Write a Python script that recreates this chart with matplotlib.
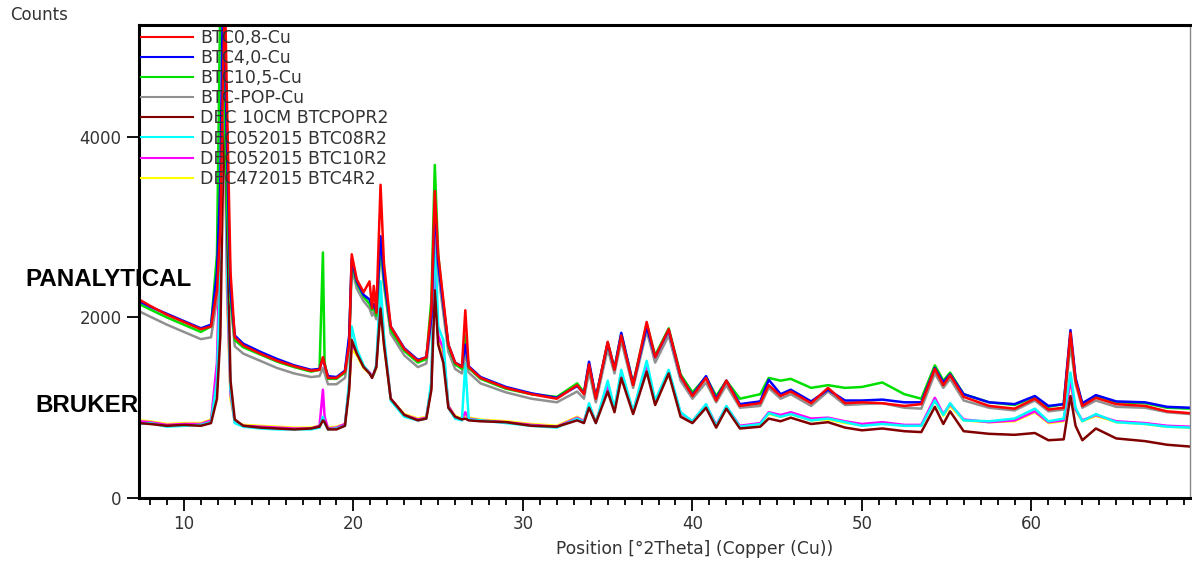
import numpy as np
import matplotlib
matplotlib.use("Agg")
import matplotlib.pyplot as plt
from matplotlib.ticker import MultipleLocator

# 2Theta positions (shared grid for all scans)
pos = [7.35, 8.0, 9.0, 10.0, 11.0, 11.6, 11.95, 12.15, 12.3, 12.42, 12.55, 12.75,
       13.0, 13.5, 14.5, 15.5, 16.5, 17.5, 18.0, 18.2, 18.3, 18.5, 19.0, 19.5,
       19.75, 19.9, 20.2, 20.6, 20.95, 21.1, 21.2, 21.35, 21.6, 21.8, 22.2, 23.0,
       23.8, 24.3, 24.6, 24.8, 25.0, 25.3, 25.6, 26.0, 26.4, 26.6, 26.8, 27.5,
       29.0, 30.5, 32.0, 33.2, 33.6, 33.9, 34.3, 35.0, 35.4, 35.8, 36.5, 37.3,
       37.8, 38.6, 39.3, 40.0, 40.8, 41.4, 42.0, 42.8, 44.0, 44.5, 45.2, 45.8,
       47.0, 48.0, 49.0, 50.0, 51.2, 52.5, 53.5, 54.3, 54.8, 55.2, 56.0, 57.5,
       59.0, 60.2, 61.0, 61.9, 62.3, 62.6, 63.0, 63.8, 65.0, 66.7, 68.0, 69.35]

# PANALYTICAL scans
btc08_cu = [2200, 2130, 2030, 1950, 1870, 1900, 2300, 3000, 4600, 5600, 4300, 2500,
            1780, 1690, 1600, 1520, 1460, 1410, 1420, 1560, 1480, 1330, 1330, 1400,
            1700, 2700, 2420, 2280, 2400, 2100, 2350, 2050, 3470, 2600, 1900, 1650,
            1520, 1560, 2100, 3400, 2700, 2200, 1700, 1500, 1450, 2080, 1450, 1330,
            1220, 1150, 1100, 1250, 1150, 1480, 1100, 1730, 1420, 1800, 1250, 1950,
            1560, 1870, 1350, 1130, 1330, 1080, 1300, 1020, 1050, 1250, 1130, 1180,
            1050, 1220, 1050, 1060, 1050, 1020, 1040, 1430, 1250, 1360, 1120, 1020,
            990, 1100, 980, 1000, 1830, 1300, 1020, 1110, 1040, 1020, 960, 940]
btc40_cu = [2180, 2120, 2040, 1960, 1880, 1920, 2500, 3500, 5600, 5000, 3800, 2300,
            1800, 1710, 1620, 1540, 1470, 1420, 1430, 1550, 1470, 1350, 1340, 1410,
            1800, 2650, 2400, 2250, 2200, 2120, 2150, 2060, 2900, 2450, 1900, 1660,
            1530, 1560, 2000, 3250, 2600, 2150, 1700, 1500, 1460, 1700, 1460, 1340,
            1230, 1160, 1110, 1240, 1160, 1510, 1110, 1720, 1430, 1830, 1260, 1900,
            1560, 1860, 1350, 1140, 1350, 1100, 1300, 1040, 1070, 1310, 1150, 1200,
            1070, 1200, 1080, 1080, 1090, 1060, 1060, 1440, 1280, 1370, 1150, 1060,
            1040, 1130, 1020, 1040, 1860, 1330, 1050, 1140, 1070, 1060, 1010, 1000]
btc105_cu = [2150, 2090, 2000, 1920, 1840, 1900, 2700, 5600, 5600, 4200, 3200, 2200,
             1750, 1670, 1590, 1510, 1450, 1400, 1420, 2720, 1500, 1320, 1320, 1390,
             1750, 2600, 2380, 2230, 2150, 2080, 2120, 2020, 2850, 2400, 1860, 1630,
             1500, 1540, 2200, 3690, 2700, 2150, 1680, 1480, 1430, 1800, 1440, 1320,
             1210, 1150, 1120, 1270, 1170, 1480, 1110, 1720, 1440, 1820, 1270, 1930,
             1580, 1880, 1370, 1170, 1340, 1130, 1300, 1100, 1150, 1330, 1300, 1320,
             1220, 1250, 1220, 1230, 1280, 1150, 1100, 1470, 1300, 1390, 1150, 1060,
             1030, 1120, 1010, 1040, 1800, 1310, 1040, 1120, 1060, 1050, 1000, 990]
btcpop_cu = [2070, 2010, 1920, 1840, 1760, 1780, 2200, 3000, 4500, 4800, 3600, 2200,
             1680, 1600, 1520, 1440, 1380, 1340, 1350, 1440, 1380, 1260, 1260, 1330,
             1650, 2550, 2320, 2180, 2100, 2020, 2060, 1980, 2750, 2350, 1820, 1580,
             1450, 1490, 1950, 3100, 2500, 2050, 1620, 1430, 1380, 1600, 1390, 1270,
             1170, 1100, 1060, 1180, 1100, 1400, 1060, 1650, 1380, 1740, 1220, 1850,
             1500, 1800, 1300, 1100, 1280, 1060, 1250, 1000, 1020, 1220, 1100, 1150,
             1020, 1180, 1030, 1040, 1050, 1000, 990, 1380, 1220, 1320, 1080, 1000,
             970, 1080, 960, 980, 1700, 1260, 1000, 1080, 1010, 1000, 950, 930]

# BRUKER scans
dec10cm = [830, 820, 800, 810, 800, 830, 1100, 1800, 3500, 4200, 3000, 1300,
           870, 800, 780, 770, 760, 770, 790, 860, 840, 760, 760, 800,
           1200, 1750, 1600, 1450, 1380, 1330, 1380, 1450, 2100, 1700, 1100, 920,
           860, 880, 1200, 2300, 1700, 1500, 1000, 900, 870, 880, 860, 850,
           840, 800, 790, 860, 830, 1000, 830, 1180, 950, 1330, 930, 1400,
           1030, 1380, 900, 830, 1000, 780, 990, 770, 790, 880, 850, 890,
           820, 840, 780, 750, 770, 740, 730, 1010, 820, 960, 740, 711,
           700, 720, 640, 650, 1130, 800, 640, 770, 660, 630, 590, 570]
dec_btc08 = [820, 830, 790, 800, 810, 840, 1300, 2500, 4700, 4400, 2500, 1200,
             830, 790, 770, 760, 760, 760, 780, 900, 830, 760, 770, 800,
             1300, 1900, 1650, 1470, 1380, 1340, 1370, 1480, 2400, 1800, 1080, 900,
             860, 880, 1300, 3000, 1900, 1750, 1000, 880, 860, 1490, 870, 860,
             830, 800, 780, 880, 840, 1050, 830, 1300, 990, 1420, 960, 1520,
             1080, 1420, 950, 850, 1040, 800, 1020, 790, 820, 940, 900, 930,
             860, 880, 840, 800, 820, 800, 800, 1080, 920, 1050, 860, 850,
             880, 990, 850, 880, 1390, 1000, 850, 930, 840, 820, 790, 780]
dec_btc10 = [850, 840, 810, 820, 820, 860, 1500, 3000, 4500, 4000, 2300, 1150,
             840, 800, 790, 780, 770, 770, 800, 1200, 900, 770, 780, 820,
             1250, 1700, 1620, 1460, 1390, 1350, 1380, 1460, 2250, 1750, 1100, 920,
             870, 890, 1250, 2700, 1800, 1650, 1020, 900, 870, 950, 880, 860,
             840, 810, 790, 890, 850, 1030, 840, 1250, 980, 1380, 950, 1480,
             1060, 1400, 940, 850, 1030, 810, 1010, 800, 830, 950, 920, 950,
             880, 890, 850, 820, 840, 810, 810, 1110, 930, 1040, 870, 840,
             860, 960, 840, 860, 1300, 980, 860, 920, 850, 830, 800, 790]
dec_btc4 = [860, 850, 820, 830, 830, 870, 1400, 2800, 4400, 3900, 2200, 1100,
            850, 810, 800, 790, 780, 780, 800, 880, 860, 780, 790, 820,
            1220, 1650, 1580, 1440, 1380, 1340, 1370, 1440, 2200, 1700, 1100, 930,
            880, 900, 1230, 2600, 1750, 1600, 1020, 910, 880, 920, 890, 870,
            850, 820, 800, 900, 850, 1020, 850, 1230, 970, 1360, 950, 1450,
            1050, 1380, 930, 850, 1020, 800, 1000, 790, 820, 930, 900, 930,
            860, 870, 830, 810, 830, 800, 800, 1080, 910, 1020, 860, 840,
            850, 950, 830, 850, 1280, 970, 850, 910, 840, 820, 790, 780]

labels = ["BTC0,8-Cu", "BTC4,0-Cu", "BTC10,5-Cu", "BTC-POP-Cu",
          "DEC 10CM BTCPOPR2", "DEC052015 BTC08R2", "DEC052015 BTC10R2", "DEC472015 BTC4R2"]
series = [btc08_cu, btc40_cu, btc105_cu, btcpop_cu, dec10cm, dec_btc08, dec_btc10, dec_btc4]
colors = ["#ff0000", "#0000ff", "#00e000", "#909090",
          "#800000", "#00ffff", "#ff00ff", "#ffff00"]
# drawing order: bruker first (brown on top), then panalytical (red on top)
draw_order = [7, 6, 5, 4, 3, 2, 1, 0]

fig = plt.figure(figsize=(11.92, 5.61), dpi=100)
ax = fig.add_axes([0.1166, 0.1123, 0.8817, 0.8431])

handles = [None] * len(series)
for i in draw_order:
    ln, = ax.plot(pos, series[i], color=colors[i], lw=1.8, label=labels[i])
    handles[i] = ln

ax.set_xlim(7.35, 69.35)
ax.set_ylim(0, 5240)
ax.xaxis.set_major_locator(MultipleLocator(10))
ax.xaxis.set_minor_locator(MultipleLocator(1))
ax.set_yticks([0, 2000, 4000])
ax.tick_params(axis="both", which="major", direction="out", length=9, width=1.3,
               labelsize=12, labelcolor="#333333")
ax.tick_params(axis="x", which="minor", direction="out", length=5, width=1.3)
for s in ["left", "bottom", "top"]:
    ax.spines[s].set_linewidth(2.2)
    ax.spines[s].set_color("black")
ax.spines["right"].set_color("#888888")
ax.spines["right"].set_linewidth(1)

leg = ax.legend(handles=handles, labels=labels, loc="upper left",
                bbox_to_anchor=(0.0, 0.995), frameon=False, fontsize=12.5,
                handlelength=3.0, handletextpad=0.4, labelspacing=0.12,
                borderaxespad=0.1, borderpad=0.0)
for t in leg.get_texts():
    t.set_color("#333333")
for h in leg.legend_handles:
    h.set_linewidth(1.5)

fig.text(10 / 1192, 1 - 15 / 561, "Counts", fontsize=12, color="#333333",
         va="center", ha="left")
fig.text(25 / 1192, 1 - 279 / 561, "PANALYTICAL", fontsize=17.4, fontweight="bold",
         family="Liberation Sans", va="center", ha="left")
fig.text(35 / 1192, 1 - 405 / 561, "BRUKER", fontsize=17.4, fontweight="bold",
         family="Liberation Sans", va="center", ha="left")
fig.text(695 / 1192, 1 - 549 / 561, "Position [\u00b02Theta] (Copper (Cu))",
         fontsize=12.3, color="#333333", va="center", ha="center")

fig.savefig("out.png", dpi=100)
